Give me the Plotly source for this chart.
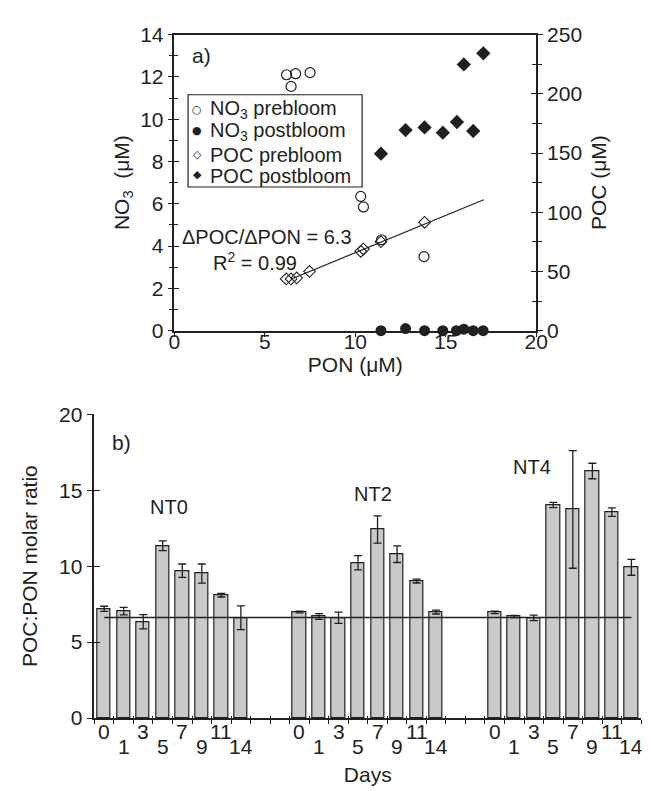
import plotly.graph_objects as go

# ---------------- Panel a) data ----------------
pon_no3_pre = [6.2, 6.45, 6.7, 7.5, 10.3, 10.45, 11.45, 13.8]
no3_pre = [12.1, 11.55, 12.15, 12.2, 6.35, 5.85, 4.3, 3.5]

pon_no3_post = [11.42, 12.78, 13.83, 14.84, 15.59, 16.0, 16.52, 17.07]
no3_post = [0.0, 0.1, 0.0, 0.0, 0.0, 0.07, 0.0, 0.0]

pon_poc_pre = [6.18, 6.45, 6.76, 7.47, 10.3, 10.45, 11.42, 13.83]
poc_pre = [43.7, 43.7, 44.5, 50.0, 67.0, 68.9, 75.1, 91.5]

pon_poc_post = [11.42, 12.78, 13.83, 14.84, 15.62, 16.52, 16.0, 17.08]
poc_post = [149.4, 169.4, 171.6, 167.2, 176.2, 168.6, 224.8, 234.2]

fit_pon = [6.5, 17.1]
fit_poc = [43.8, 110.6]

legend_labels = ["NO<sub>3</sub> prebloom", "NO<sub>3</sub> postbloom", "POC prebloom", "POC postbloom"]
legend_glyphs = ["○", "●", "◇", "◆"]

# ---------------- Panel b) data ----------------
groups = ["NT0", "NT2", "NT4"]
days = ["0", "1", "3", "5", "7", "9", "11", "14"]
nt0 = [7.19, 7.04, 6.34, 11.34, 9.70, 9.51, 8.09, 6.60]
nt0_err = [0.17, 0.25, 0.47, 0.32, 0.44, 0.63, 0.12, 0.78]
nt2 = [6.98, 6.68, 6.60, 10.22, 12.41, 10.79, 9.02, 6.98]
nt2_err = [0.06, 0.19, 0.37, 0.47, 0.90, 0.55, 0.13, 0.13]
nt4 = [6.96, 6.68, 6.60, 14.02, 13.73, 16.26, 13.56, 9.92]
nt4_err = [0.08, 0.07, 0.18, 0.17, 3.87, 0.51, 0.28, 0.52]
ref_ratio = 6.62

# ---------------- styling ----------------
W, H = 651, 791
INK = "#231f20"
FONT = "Liberation Sans, Arial, Helvetica, sans-serif"
FS = 20      # annotations
TFS = 21     # tick labels / titles
LFS = 20     # legend text


def fx(p):
    return p / W


def fy(p):
    return 1 - p / H


fig = go.Figure()

# Panel a traces
fig.add_trace(go.Scatter(x=pon_no3_pre, y=no3_pre, mode="markers", name=legend_labels[0], showlegend=False,
                         marker=dict(symbol="circle-open", size=10, color=INK, line=dict(width=1.2)),
                         xaxis="x", yaxis="y"))
fig.add_trace(go.Scatter(x=pon_no3_post, y=no3_post, mode="markers", name=legend_labels[1], showlegend=False,
                         marker=dict(symbol="circle", size=11, color=INK),
                         xaxis="x", yaxis="y", cliponaxis=False))
fig.add_trace(go.Scatter(x=fit_pon, y=fit_poc, mode="lines", showlegend=False,
                         line=dict(color=INK, width=1.2), xaxis="x", yaxis="y2"))
fig.add_trace(go.Scatter(x=pon_poc_pre, y=poc_pre, mode="markers", name=legend_labels[2], showlegend=False,
                         marker=dict(symbol="diamond-open", size=9, color=INK, line=dict(width=1.1)),
                         xaxis="x", yaxis="y2"))
fig.add_trace(go.Scatter(x=pon_poc_post, y=poc_post, mode="markers", name=legend_labels[3], showlegend=False,
                         marker=dict(symbol="diamond", size=11, color=INK),
                         xaxis="x", yaxis="y2"))

# Panel b traces
slot = 10
positions = []
for g, (vals, errs) in enumerate([(nt0, nt0_err), (nt2, nt2_err), (nt4, nt4_err)]):
    xs = [g * slot + i for i in range(len(days))]
    positions.append(xs)
    fig.add_trace(go.Bar(x=xs, y=vals, width=0.68, showlegend=False, name=groups[g],
                         marker=dict(color="#c8c9cb", line=dict(color=INK, width=1.2)),
                         error_y=dict(type="data", array=errs, color=INK, thickness=1.3, width=4),
                         xaxis="x2", yaxis="y3"))

fig.add_trace(go.Scatter(x=[positions[0][0], positions[-1][-1]], y=[ref_ratio, ref_ratio],
                         mode="lines", showlegend=False, line=dict(color=INK, width=1.3),
                         xaxis="x2", yaxis="y3"))

# invisible traces for extra tick overlay axes
for xa, ya in [("x4", "y4"), ("x4", "y5"), ("x3", "y6")]:
    fig.add_trace(go.Scatter(x=[None], y=[None], mode="markers", showlegend=False,
                             hoverinfo="skip", xaxis=xa, yaxis=ya))

top_x = [fx(165), fx(537)]
top_y = [fy(320), fy(15)]
bot_x = [fx(82.7), fx(645)]
bot_y = [fy(719), fy(406)]

axis_common = dict(showgrid=False, zeroline=False, color=INK, linecolor=INK, linewidth=1.5,
                   tickcolor=INK, tickwidth=1.3, tickfont=dict(size=TFS, color=INK))
overlay_common = dict(showgrid=False, zeroline=False, showline=False, showticklabels=False,
                      tickcolor=INK, tickwidth=1.3)

nb = len(positions[-1]) + positions[-1][0]
boundaries = [i - 0.5 for i in range(nb + 1)]

fig.update_layout(
    width=W, height=H,
    margin=dict(l=0, r=0, t=0, b=0),
    paper_bgcolor="white", plot_bgcolor="rgba(0,0,0,0)",
    font=dict(family=FONT, size=FS, color=INK),
    bargap=0,
    showlegend=False,
    xaxis=dict(domain=top_x, range=[0, 20], anchor="y", tickvals=[0, 5, 10, 15, 20],
               ticks="", showline=True, mirror=True, ticklabelstandoff=-9,
               title=dict(text="PON (μM)", standoff=0, font=dict(size=TFS)), **axis_common),
    yaxis=dict(domain=top_y, range=[0, 14], anchor="x", dtick=2, ticks="outside", ticklen=5,
               minor=dict(dtick=1, ticks="outside", ticklen=4, tickcolor=INK, tickwidth=1.3),
               showline=True, title=dict(text="NO<sub>3</sub>  (μM)", standoff=5, font=dict(size=TFS)),
               **axis_common),
    yaxis2=dict(range=[0, 250], anchor="x", overlaying="y", side="right", dtick=50,
                ticks="outside", ticklen=5,
                minor=dict(dtick=25, ticks="outside", ticklen=4, tickcolor=INK, tickwidth=1.3),
                showline=True, title=dict(text="POC (μM)", standoff=10, font=dict(size=TFS)),
                **axis_common),
    xaxis4=dict(overlaying="x", anchor="y", range=[0, 20], tickvals=[0, 5, 10, 15, 20],
                ticks="outside", ticklen=5, **overlay_common),
    yaxis4=dict(overlaying="y", anchor="x", range=[0, 14], dtick=2, ticks="inside", ticklen=5,
                minor=dict(dtick=1, ticks="inside", ticklen=4, tickcolor=INK, tickwidth=1.3),
                **overlay_common),
    yaxis5=dict(overlaying="y", anchor="x", side="right", range=[0, 250], dtick=50, ticks="inside",
                ticklen=5,
                minor=dict(dtick=25, ticks="inside", ticklen=4, tickcolor=INK, tickwidth=1.3),
                **overlay_common),
    xaxis2=dict(domain=bot_x, range=[-0.5, nb - 0.5], anchor="y3", tickvals=boundaries,
                showticklabels=False, ticks="outside", ticklen=4, showline=True,
                title=dict(text="Days", standoff=44, font=dict(size=TFS)), **axis_common),
    yaxis3=dict(domain=bot_y, range=[0, 20], anchor="x2", dtick=5, ticks="outside", ticklen=6,
                showline=True, title=dict(text="POC:PON molar ratio", standoff=16, font=dict(size=TFS)),
                **axis_common),
    xaxis3=dict(overlaying="x2", anchor="y6", range=[-0.5, nb - 0.5], tickvals=boundaries,
                ticks="inside", ticklen=2, **overlay_common),
    yaxis6=dict(overlaying="y3", anchor="x2", range=[0, 20], dtick=5, ticks="inside", ticklen=6,
                **overlay_common),
    shapes=[dict(type="rect", xref="paper", yref="paper", x0=fx(179), x1=fx(358), y0=fy(172), y1=fy(77),
                 line=dict(color=INK, width=1.2), fillcolor="white", layer="above")],
)

annos = [
    dict(text="a)", x=fx(181), y=fy(37), xref="paper", yref="paper", xanchor="left", yanchor="middle",
         font=dict(size=TFS)),
    dict(text="ΔPOC/ΔPON = 6.3", x=fx(260.5), y=fy(224), xref="paper", yref="paper",
         xanchor="center", yanchor="middle"),
    dict(text="R<sup>2</sup> = 0.99", x=fx(247.5), y=fy(249), xref="paper", yref="paper",
         xanchor="center", yanchor="middle"),
    dict(text="b)", x=fx(99), y=fy(435), xref="paper", yref="paper", xanchor="left", yanchor="middle",
         font=dict(size=TFS)),
    dict(text=groups[0], x=fx(159), y=fy(501.7), xref="paper", yref="paper", xanchor="center", yanchor="middle"),
    dict(text=groups[1], x=fx(369.5), y=fy(487.7), xref="paper", yref="paper", xanchor="center", yanchor="middle"),
    dict(text=groups[2], x=fx(532.5), y=fy(460.7), xref="paper", yref="paper", xanchor="center", yanchor="middle"),
]
# legend (drawn as text inside a box)
glyph_y = [91.7, 114.3, 138.3, 159.5]
text_y = [92.5, 114.5, 139.5, 160.5]
for gl, lab, gy, ty in zip(legend_glyphs, legend_labels, glyph_y, text_y):
    annos.append(dict(text=gl, x=fx(188.3), y=fy(gy), xref="paper", yref="paper", xanchor="center",
                      yanchor="middle", font=dict(size=11, family="DejaVu Sans")))
    annos.append(dict(text=lab, x=fx(200), y=fy(ty), xref="paper", yref="paper", xanchor="left",
                      yanchor="middle", font=dict(size=LFS)))
for xs in positions:
    for i, (xv, d) in enumerate(zip(xs, days)):
        annos.append(dict(text=d, x=xv, xref="x2", y=fy(733 if i % 2 == 0 else 748), yref="paper",
                          xanchor="center", yanchor="middle", font=dict(size=TFS)))
for a in annos:
    f = dict(size=FS, color=INK, family=FONT)
    f.update(a.get("font", {}))
    a.update(showarrow=False, font=f)
fig.update_layout(annotations=annos)

fig.write_html("out.html")
